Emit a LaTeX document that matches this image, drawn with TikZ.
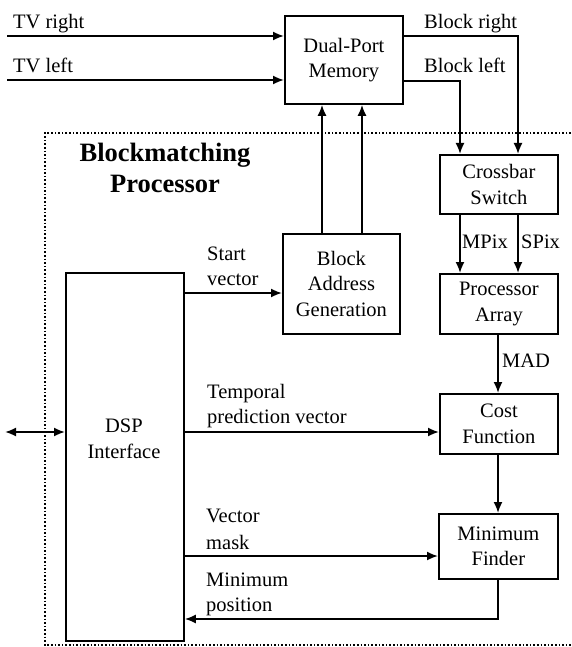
\documentclass[tikz,border=0pt]{standalone}
\usepackage{fontspec}
\setmainfont{Liberation Serif}
\usetikzlibrary{arrows.meta,calc}
\begin{document}
\begin{tikzpicture}[x=1pt,y=-1pt,
  blk/.style={draw, line width=1.8pt, inner sep=0pt, align=center, anchor=north west,
    font=\fontsize{20.5}{25.5}\selectfont},
  lbl/.style={font=\fontsize{20.5}{25.5}\selectfont, inner sep=0pt, anchor=base west},
  conn/.style={line width=1.8pt, -{Latex[length=11pt,width=9pt]}},
  biconn/.style={line width=1.8pt, {Latex[length=11pt,width=9pt]}-{Latex[length=11pt,width=9pt]}},
  frame/.style={line width=1.6pt, dotted},
  title/.style={font=\fontsize{26.5}{31}\selectfont\bfseries, align=center, inner sep=0pt}]
\useasboundingbox (0,0) rectangle (571,647);

% dotted processor frame
\coordinate (ftr) at (571,133);
\coordinate (ftl) at (45,133);
\coordinate (fbl) at (45,645);
\coordinate (fbr) at (571,645);
\draw[frame] (ftr) -- (ftl) -- (fbl) -- (fbr);

% boxes
\node[blk, minimum width=118pt, minimum height=88pt] (mem) at (284,15) {Dual-Port\\Memory};
\node[blk, minimum width=118pt, minimum height=59pt] (xbar) at (439,154) {Crossbar\\Switch};
\node[blk, minimum width=118pt, minimum height=60pt] (proc) at (439,273) {Processor\\Array};
\node[blk, minimum width=118pt, minimum height=60pt] (cost) at (439,393) {Cost\\Function};
\node[blk, minimum width=119pt, minimum height=65pt] (minf) at (438,513) {Minimum\\Finder};
\node[blk, minimum width=117pt, minimum height=100pt] (bag) at (282,233) {Block\\Address\\Generation};
\node[blk, minimum width=118pt, minimum height=368pt] (dsp) at (65,272) {};
\node[lbl, anchor=base, align=center] (dsptxt) at (124,458) {DSP\\Interface};

% title
\node[title] (ttl) at (165,193) [anchor=base] {Blockmatching\\Processor};

% inputs to memory
\coordinate (tvrs) at (7,36);
\coordinate (tvls) at (7,80);
\draw[conn] (tvrs) -- (tvrs -| mem.west);
\draw[conn] (tvls) -- (tvls -| mem.west);
\node[lbl] (tvrl) at (13,29) {TV right};
\node[lbl] (tvll) at (13,73) {TV left};

% memory outputs
\coordinate (brx) at (518,36);
\coordinate (blx) at (460,81);
\draw[conn] (brx -| mem.east) -| (brx |- xbar.north);
\draw[conn] (blx -| mem.east) -| (blx |- xbar.north);
\node[lbl] (brl) at (424,29) {Block right};
\node[lbl] (bll) at (424,73) {Block left};

% block address generation to memory
\coordinate (ba1) at (322,0);
\coordinate (ba2) at (362,0);
\draw[conn] (ba1 |- bag.north) -- (ba1 |- mem.south);
\draw[conn] (ba2 |- bag.north) -- (ba2 |- mem.south);

% crossbar to processor
\draw[conn] (blx |- xbar.south) -- (blx |- proc.north);
\draw[conn] (brx |- xbar.south) -- (brx |- proc.north);
\node[lbl] (mpl) at (462,248) {MPix};
\node[lbl] (spl) at (521,248) {SPix};

% processor -> cost -> finder
\coordinate (cx) at (498,0);
\draw[conn] (cx |- proc.south) -- (cx |- cost.north);
\node[lbl] (madl) at (502,367) {MAD};
\draw[conn] (cx |- cost.south) -- (cx |- minf.north);

% DSP connections
\coordinate (sv) at (0,293);
\draw[conn] (sv -| dsp.east) -- (sv -| bag.west);
\node[lbl] (svl1) at (207,260) {Start};
\node[lbl] (svl2) at (207,285) {vector};

\coordinate (tp) at (0,432);
\draw[conn] (tp -| dsp.east) -- (tp -| cost.west);
\node[lbl] (tpl1) at (207,398) {Temporal};
\node[lbl] (tpl2) at (207,423) {prediction vector};

\coordinate (vm) at (0,556);
\draw[conn] (vm -| dsp.east) -- (vm -| minf.west);
\node[lbl] (vml1) at (206,522) {Vector};
\node[lbl] (vml2) at (206,549) {mask};

\coordinate (mp) at (0,619);
\draw[conn] (cx |- minf.south) |- (mp -| dsp.east);
\node[lbl] (mpl1) at (206,586) {Minimum};
\node[lbl] (mpl2) at (206,611) {position};

\coordinate (ext) at (5,432);
\draw[biconn] (ext) -- (ext -| dsp.west);
\end{tikzpicture}
\end{document}
